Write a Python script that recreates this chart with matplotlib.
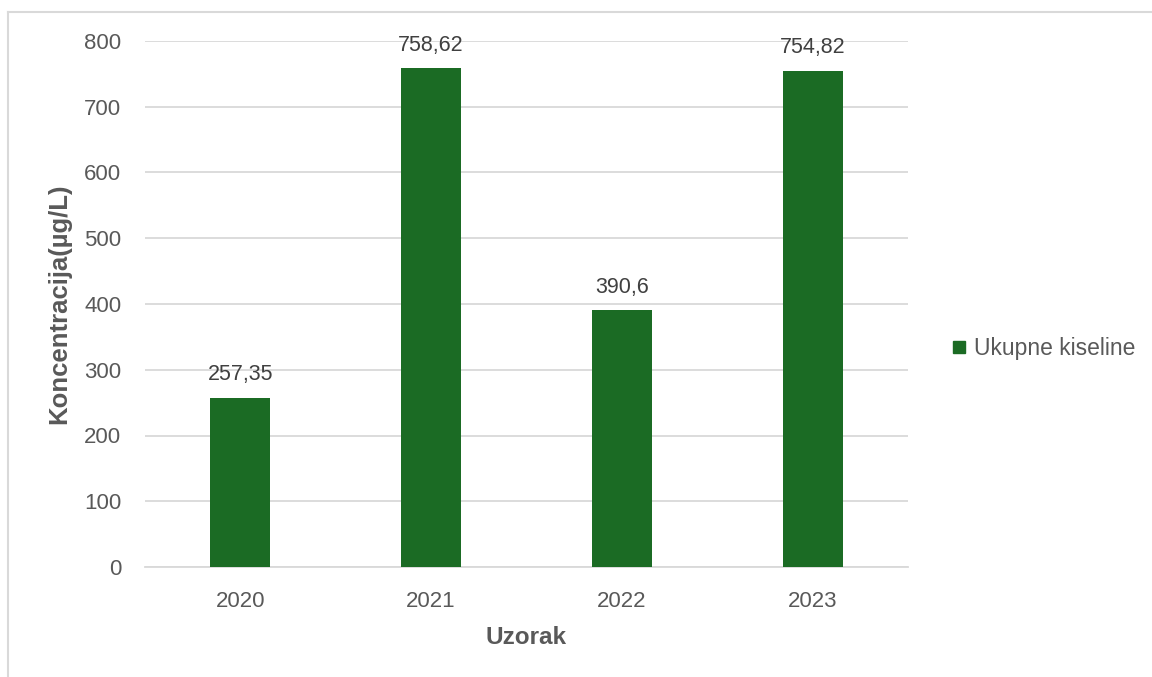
import matplotlib.pyplot as plt
from matplotlib.lines import Line2D

years = ['2020', '2021', '2022', '2023']
values = [257.35, 758.62, 390.6, 754.82]
labels = ['257,35', '758,62', '390,6', '754,82']
series_name = 'Ukupne kiseline'

plt.rcParams['font.family'] = ['Liberation Sans', 'DejaVu Sans']

fig = plt.figure(figsize=(11.52, 6.77), dpi=100)
ax = fig.add_axes([145 / 1152, 1 - 567 / 677, (908 - 145) / 1152, (567 - 41) / 677])

bar_color = '#1B6B24'
txt_color = '#595959'

x = range(len(years))
bars = ax.bar(x, values, width=0.315, color=bar_color, zorder=3, label=series_name)
for xi, v, lab in zip(x, values, labels):
    ax.annotate(lab, (xi, v), xytext=(0, 9), textcoords='offset points',
                ha='center', va='bottom', fontsize=15.5, color='#404040')

ax.set_xlim(-0.5, 3.5)
ax.set_ylim(0, 800)
ax.set_yticks(range(0, 801, 100))
ax.set_xticks(list(x))
ax.set_xticklabels(years)
ax.yaxis.grid(True, color='#D9D9D9', lw=1.3, zorder=0)
ax.set_axisbelow(True)
for s in ['top', 'right', 'left']:
    ax.spines[s].set_visible(False)
ax.spines['bottom'].set_color('#D9D9D9')
ax.spines['bottom'].set_linewidth(1.3)
ax.tick_params(axis='both', length=0, labelsize=16, colors=txt_color)
ax.tick_params(axis='y', pad=17)
ax.tick_params(axis='x', pad=17)

ax.set_xlabel('Uzorak', fontsize=17.5, fontweight='bold', color=txt_color, labelpad=10)
ax.set_ylabel('Koncentracija(µg/L)', fontsize=18.5, fontweight='bold', color=txt_color, labelpad=9)

ax.legend(handles=[Line2D([], [], marker='s', ls='', color=bar_color, markersize=9)],
          labels=[series_name], loc='center left', bbox_to_anchor=(936 / 1152, 1 - 349 / 677),
          bbox_transform=fig.transFigure, frameon=False, fontsize=16.5, labelcolor=txt_color,
          handletextpad=-0.35, borderaxespad=0, borderpad=0)

# chart border (top and left visible)
fig.add_artist(Line2D([8 / 1152, 1.0], [1 - 12 / 677, 1 - 12 / 677], transform=fig.transFigure,
                      color='#D9D9D9', lw=1.5))
fig.add_artist(Line2D([8 / 1152, 8 / 1152], [0, 1 - 12 / 677], transform=fig.transFigure,
                      color='#D9D9D9', lw=1.5))

fig.savefig('out.png', dpi=100)
